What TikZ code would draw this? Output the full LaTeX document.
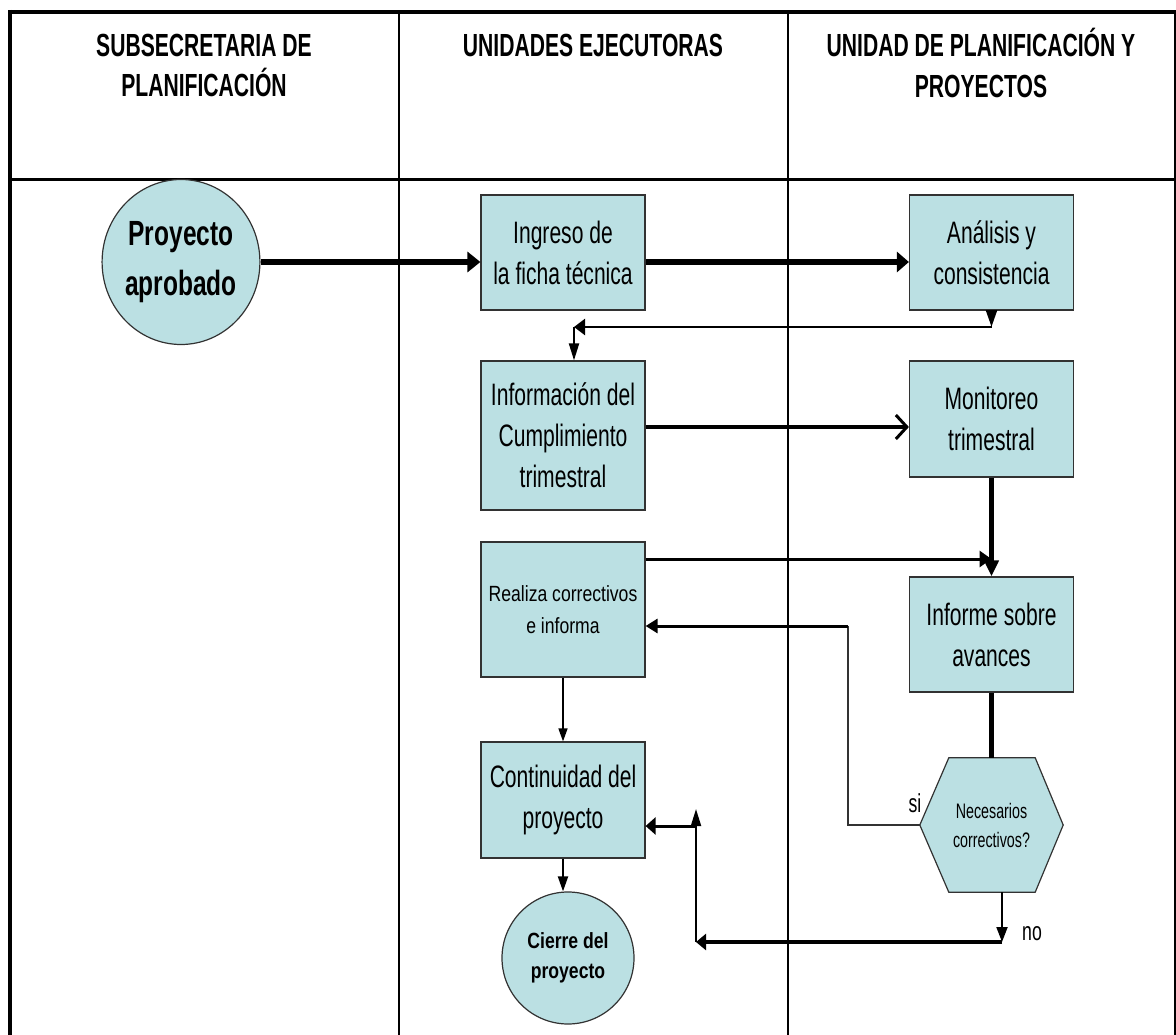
\documentclass[tikz,border=0pt]{standalone}
\usepackage{fontspec}
\setmainfont{Liberation Sans}
\newfontfamily\fR{Liberation Sans}[FakeStretch=0.68]
\newfontfamily\fS{Liberation Sans}[FakeStretch=0.80]
\newfontfamily\fP{Liberation Sans}[FakeStretch=0.70]
\newfontfamily\fH{Liberation Sans}[FakeStretch=0.66]
\usetikzlibrary{arrows.meta,shapes.geometric,calc,backgrounds}
\definecolor{boxfill}{RGB}{187,224,227}
\definecolor{edgec}{RGB}{50,50,50}
\begin{document}
\begin{tikzpicture}[x=1pt,y=-1pt,
  proc/.style={draw=edgec, line width=1.2pt, fill=boxfill, minimum width=164pt, inner sep=0pt, align=center, font=\fR\fontsize{31}{41}\selectfont},
  term/.style={draw=edgec, line width=1.2pt, fill=boxfill, ellipse, inner sep=0pt, align=center},
  hdr/.style={align=center, inner sep=0pt, font=\fH\bfseries\fontsize{32}{40.5}\selectfont},
  lbl/.style={inner sep=0pt, font=\fR\fontsize{26}{30}\selectfont},
  ah/.style args={#1/#2}{-{Triangle[length=#1pt,width=#2pt]}}]
\useasboundingbox (0,0) rectangle (1176,1035);
% frame
\draw[line width=4.5pt] (8,12) -- (1176,12);
\draw[line width=4pt] (10,10) -- (10,1035);
\draw[line width=2pt] (1175,12) -- (1175,1035);
\draw[line width=2.5pt] (10,179.5) -- (1175,179.5);
\draw[line width=2pt] (398.5,12) -- (398.5,1035);
\draw[line width=2pt] (787.5,12) -- (787.5,1035);
% headers
\node[hdr] (h1) at (204,65.5) {SUBSECRETARIA DE\\PLANIFICACIÓN};
\node[hdr] (h2) at (593,45.5) {UNIDADES EJECUTORAS};
\node[hdr] (h3) at (981,63) {UNIDAD DE PLANIFICACIÓN Y\\PROYECTOS};
% nodes
\node[term, minimum width=154pt, minimum height=165pt, font=\fP\bfseries\fontsize{35}{50}\selectfont] (start) at (181,262) {Proyecto\\aprobado};
\node[proc, minimum height=115pt] (ingreso) at (563,252.5) {Ingreso de\\la ficha técnica};
\node[proc, minimum height=115pt] (analisis) at (991.5,252.5) {Análisis y\\consistencia};
\node[proc, minimum height=149pt] (info) at (563,435.5) {Información del\\Cumplimiento\\trimestral};
\node[proc, minimum height=116pt] (monitoreo) at (991.5,419) {Monitoreo\\trimestral};
\node[proc, minimum height=135pt, font=\fS\fontsize{22}{32}\selectfont] (realiza) at (563,609.5) {Realiza correctivos\\e informa};
\node[proc, minimum height=115pt] (informe) at (991.5,634.5) {Informe sobre\\avances};
\node[proc, minimum height=116pt] (cont) at (563,800) {Continuidad del\\proyecto};
\node[term, circle, minimum size=132pt, font=\fS\bfseries\fontsize{22}{30}\selectfont] (cierre) at (568,958) {Cierre del\\proyecto};
\node[inner sep=0pt, minimum width=143pt, minimum height=134pt, align=center, font=\fR\fontsize{21}{29}\selectfont] (hex) at (991.5,825) {Necesarios\\correctivos?};
\begin{scope}[on background layer]
\draw[draw=edgec, line width=1.2pt, fill=boxfill] (hex.west) -- ($(hex.north west)+(29,0)$) -- ($(hex.north east)+(-28,0)$) -- (hex.east) -- ($(hex.south east)+(-28,0)$) -- ($(hex.south west)+(29,0)$) -- cycle;
\end{scope}
% labels
\node[lbl] (si) at (915,803) {si};
\node[lbl] (no) at (1032,934) {no};
% coordinates
\coordinate (a1) at (991.5,327);
\coordinate (a2) at (574,327);
\coordinate (s1) at (848,825);
\coordinate (s2) at (848,626);
\coordinate (n1) at (1002,942);
\coordinate (n2) at (696,942);
\coordinate (n3) at (696,809);
\coordinate (n4) at (696,826);
% connectors
\draw[line width=6pt, ah=13/20] (start.east) -- (start.east -| ingreso.west);
\draw[line width=6pt, ah=12/20] (start.east -| ingreso.east) -- (start.east -| analisis.west);
\draw[line width=2.5pt, ah=17/11] (analisis.south) -- (a1);
\draw[line width=2.5pt, ah=11/16] (a1) -- (a2);
\draw[line width=2pt, ah=17/10] (a2) -- (a2 |- info.north);
\draw[line width=4pt, -{Straight Barb[length=11pt,width=24pt,line width=3pt]}] ([yshift=8.5pt]info.east) -- ([yshift=8.5pt]info.east -| monitoreo.west);
\draw[line width=5pt, ah=16/14] (monitoreo.south) -- (informe.north);
\draw[line width=3pt, ah=12/16] ([yshift=50.5pt]realiza.east) -- ([yshift=50.5pt]realiza.east -| informe.north);
\draw[line width=5.5pt] (informe.south) -- (hex.north);
\draw[line width=1.5pt, draw=edgec] (hex.west) -- (s1) -- (s2);
\draw[line width=3pt, ah=12/14] (s2) -- (s2 -| realiza.east);
\draw[line width=2pt, ah=15/11] ([xshift=10.5pt]hex.south) -- (n1);
\draw[line width=3.5pt, ah=10/16] (n1) -- (n2);
\draw[line width=2pt, ah=17/10] (n2) -- (n3);
\draw[line width=3pt, ah=10/17] (n4) -- (n4 -| cont.east);
\draw[line width=1.5pt, ah=13/9] (realiza.south) -- (cont.north);
\draw[line width=2pt, ah=15/10] (cont.south) -- (cont.south |- cierre.north);
\end{tikzpicture}
\end{document}
